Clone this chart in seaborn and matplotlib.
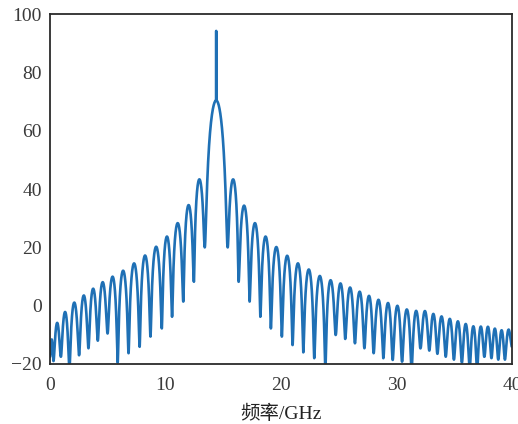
import numpy as np
import pandas as pd
import matplotlib
matplotlib.use("Agg")
import matplotlib.pyplot as plt
import seaborn as sns

# Spectrum: null frequencies (GHz) with their levels (dB) and the peak level of each lobe
null_freq = [0.00, 0.30, 0.94, 1.68, 2.52, 3.33, 4.14, 4.98, 5.86, 6.80, 7.76,
             8.70, 9.68, 10.57, 11.54, 12.46, 13.40,
             15.38, 16.33, 17.28, 18.21, 19.12, 20.07, 21.00, 21.93, 22.88, 23.84,
             24.74, 25.56, 26.40, 27.22, 28.02, 28.86, 29.67, 30.48, 31.31, 32.08,
             32.84, 33.54, 34.26, 34.97, 35.66, 36.33, 36.98, 37.61, 38.22, 38.81,
             39.39, 40.00]
null_level = [-17.5, -19.0, -17.5, -22.0, -17.0, -14.6, -12.0, -9.5, -19.5, -16.3, -14.1,
              -10.6, -7.8, -3.8, 1.4, 8.2, 20.0,
              20.0, 8.2, 1.4, -3.8, -7.8, -10.6, -13.5, -16.0, -18.0, -22.0,
              -10.0, -11.4, -12.9, -14.6, -16.3, -18.0, -18.6, -19.2, -22.0, -14.6,
              -15.4, -16.5, -17.5, -18.5, -19.5, -22.0, -22.0, -17.5, -18.0, -18.5,
              -18.5, -14.0]
peak_level = [-17.0, -8.3, -3.4, 0.2, 2.5, 4.8, 7.0, 9.4, 11.7, 14.2,
              16.9, 19.9, 23.4, 28.0, 34.2, 43.0,
              70.0,
              43.0, 34.0, 28.0, 23.4, 19.8, 16.8, 14.2, 12.1, 9.9, 8.2,
              6.5, 5.1, 3.7, 2.3, 1.0, -0.1, -1.1, -2.3, -3.2, -4.0,
              -5.0, -5.8, -6.6, -7.4, -8.1, -8.8, -9.5, -10.3, -11.0, -11.7,
              -12.6]
spike_level = 94.2          # carrier line on top of the main lobe

x_ticks = [0, 10, 20, 30, 40]
y_ticks = [-20, 0, 20, 40, 60, 80, 100]
y_tick_labels = ["\u221220", "0", "20", "40", "60", "80", "100"]

# ---- build the trace lobe by lobe ----
main_idx = int(np.argmax(peak_level))
freqs, levels = [], []
for i, pk in enumerate(peak_level):
    f0, f1 = null_freq[i], null_freq[i + 1]
    n0, n1 = null_level[i], null_level[i + 1]
    sharp = 3.2 if i == main_idx else 2.0
    n = 601 if i == main_idx else 181
    t = np.linspace(0.0, 1.0, n)
    floor_db = (1 - t) * n0 + t * n1 - pk
    eps = 10 ** (floor_db / (10 * sharp))
    y = pk + sharp * 10 * np.log10(np.sin(np.pi * t) ** 2 + eps)
    if i == main_idx:
        y[n // 2] = spike_level
    f = f0 + t * (f1 - f0)
    if i > 0:
        f, y = f[1:], y[1:]
    freqs.extend(f)
    levels.extend(y)

df = pd.DataFrame({"freq": freqs, "level": levels})

sns.set_style("white")
plt.rcParams["font.family"] = ["Liberation Serif", "Noto Sans CJK SC"]

fig = plt.figure(figsize=(5.18, 4.24), dpi=100)
ax = fig.add_axes([50 / 518, 1 - 364 / 424, 462 / 518, 350 / 424])

sns.lineplot(data=df, x="freq", y="level", sort=False, estimator=None,
             color="#1f70b5", linewidth=1.9, ax=ax)

ax.set_xlim(0, 40)
ax.set_ylim(-20, 100)
ax.set_xticks(x_ticks)
ax.set_xticklabels([str(v) for v in x_ticks])
ax.set_yticks(y_ticks)
ax.set_yticklabels(y_tick_labels)

for s in ax.spines.values():
    s.set_visible(True)
    s.set_color("#2b2b2b")
    s.set_linewidth(1.3)

ax.tick_params(axis="both", direction="in", length=4, width=1.1, colors="#2b2b2b",
               labelsize=14, labelcolor="#3a3a3a", top=False, right=False)
ax.tick_params(axis="x", pad=9)
ax.tick_params(axis="y", pad=6)

ax.set_xlabel("频率/GHz", fontsize=14, color="#222222", labelpad=8)
ax.set_ylabel("")

fig.savefig("out.png", dpi=100)
